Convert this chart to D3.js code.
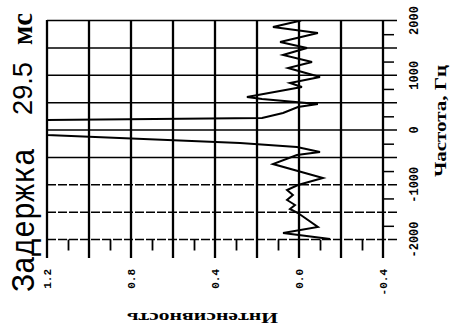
<!DOCTYPE html>
<html><head><meta charset="utf-8">
<script src="https://cdn.jsdelivr.net/npm/d3@7"></script>
<style>html,body{margin:0;padding:0;background:#fff;} svg{display:block}</style>
</head><body>
<svg id="c" width="450" height="331"></svg>
<script>
// ---- data (frequency in Hz, intensity) ----
const freqHz = [2000, 1881, 1771, 1607, 1497, 1370, 1242, 1132, 968, 858, 785, 603, 566, 475, 420, 310, 219, 183,
  -91, -237, -310, -402, -457, -621, -876, -1004, -1096, -1187, -1278, -1370, -1443, -1516, -1771, -1881, -1990];
const intensity = [-0.01, 0.124, -0.09, 0.09, -0.038, 0.076, -0.062, 0.052, -0.1, 0.043, -0.014, 0.248, 0.176, -0.09, 0.005, 0.076, 0.176, 1.2,
  1.2, 0.281, 0.01, -0.1, 0.01, 0.124, -0.114, 0.005, 0.057, 0.029, 0.057, 0.019, 0.043, 0.005, -0.09, 0.076, -0.148];

const freqTicks = [-2000, -1000, 0, 1000, 2000];
const freqTickLabels = ["-2000", "-1000", "0", "1000", "2000"];
const freqGrid = [-2000, -1500, -1000, -500, 0, 500, 1000, 1500, 2000];
const freqMinor = [-1750, -1250, -750, -250, 250, 750, 1250, 1750];
const intTicks = [1.2, 0.8, 0.4, 0.0, -0.4];
const intTickLabels = ["1.2", "0.8", "0.4", "0.0", "-0.4"];
const intGrid = [1.2, 1.0, 0.8, 0.6, 0.4, 0.2, 0.0, -0.2, -0.4];
const intMinor = [1.1, 0.9, 0.7, 0.5, 0.3, 0.1, -0.1, -0.3];
const titleParts = ["Задержка", "29.5", "мс"];
const freqTitle = "Частота, Гц";
const intTitle = "Интенсивность";

const svg = d3.select("#c");
const y = d3.scaleLinear().domain([-2000, 2000]).range([239.5, 20.5]);
const x = d3.scaleLinear().domain([1.2, -0.4]).range([47, 383]);
const bottomExt = 258, rightExt = 397;

// horizontal grid
svg.append("g").selectAll("line").data(freqGrid).join("line")
  .attr("x1", x(1.2)).attr("x2", rightExt)
  .attr("y1", d => y(d)).attr("y2", d => y(d))
  .attr("stroke", "#000").attr("stroke-width", 1.5)
  .attr("stroke-dasharray", d => d <= -1000 ? "9,2" : null);

// vertical grid
svg.append("g").selectAll("line").data(intGrid).join("line")
  .attr("x1", d => x(d)).attr("x2", d => x(d))
  .attr("y1", y(2000) - 0.5).attr("y2", bottomExt)
  .attr("stroke", "#000").attr("stroke-width", 2.3);

// minor ticks (axes)
const ax1 = svg.append("g").attr("transform", `translate(0,${y(-2000)})`)
  .call(d3.axisBottom(x).tickValues(intMinor).tickSize(11).tickFormat(""));
ax1.select(".domain").remove();
ax1.selectAll("line").attr("stroke-width", 1.8);
const ax2 = svg.append("g").attr("transform", `translate(${x(-0.4)},0)`)
  .call(d3.axisRight(y).tickValues(freqMinor).tickSize(11).tickFormat(""));
ax2.select(".domain").remove();
ax2.selectAll("line").attr("stroke-width", 1.5);

// data line
svg.append("clipPath").attr("id", "clip").append("rect")
  .attr("x", x(1.2)).attr("y", y(2000)).attr("width", x(-0.4) - x(1.2)).attr("height", y(-2000) - y(2000));
const pts = freqHz.map((f, i) => ({f, v: intensity[i]}));
svg.append("path").datum(pts)
  .attr("clip-path", "url(#clip)")
  .attr("fill", "none").attr("stroke", "#000").attr("stroke-width", 2)
  .attr("stroke-linejoin", "miter")
  .attr("d", d3.line().x(d => x(d.v)).y(d => y(d.f)));

// frequency tick labels
svg.append("g").selectAll("text").data(freqTicks).join("text")
  .attr("transform", d => `translate(418,${y(d)}) rotate(-90)`)
  .attr("text-anchor", "middle")
  .style("font-family", "Liberation Mono, monospace").style("font-weight", "bold").style("font-size", "12px")
  .text((d, i) => freqTickLabels[i]);

// intensity tick labels
svg.append("g").selectAll("text").data(intTicks).join("text")
  .attr("transform", d => `translate(${x(d) + 4},269) rotate(-90)`)
  .attr("text-anchor", "end")
  .style("font-family", "Liberation Mono, monospace").style("font-weight", "bold").style("font-size", "11px")
  .text((d, i) => intTickLabels[i]);

// title
svg.append("text").attr("transform", "translate(34,292) rotate(-90)")
  .attr("textLength", 144).attr("lengthAdjust", "spacingAndGlyphs")
  .style("font-family", "Liberation Mono, monospace").style("font-size", "34px")
  .text(titleParts[0]);
svg.append("text").attr("transform", "translate(32,115) rotate(-90)")
  .attr("textLength", 53).attr("lengthAdjust", "spacingAndGlyphs")
  .style("font-family", "Liberation Sans, Arial, sans-serif").style("font-size", "28px")
  .text(titleParts[1]);
svg.append("text").attr("transform", "translate(32,45) rotate(-90)")
  .attr("textLength", 32).attr("lengthAdjust", "spacingAndGlyphs")
  .style("font-family", "Liberation Serif, serif").style("font-weight", "bold").style("font-size", "30px")
  .text(titleParts[2]);

// axis titles
svg.append("text").attr("transform", "translate(446,177) rotate(-90)")
  .attr("textLength", 112).attr("lengthAdjust", "spacingAndGlyphs")
  .style("font-family", "Liberation Serif, serif").style("font-weight", "bold").style("font-size", "16px")
  .text(freqTitle);
svg.append("text").attr("transform", "translate(278,313) rotate(180)")
  .attr("textLength", 151).attr("lengthAdjust", "spacingAndGlyphs")
  .style("font-family", "Liberation Serif, serif").style("font-weight", "bold").style("font-size", "14px")
  .text(intTitle);
</script>
</body></html>
